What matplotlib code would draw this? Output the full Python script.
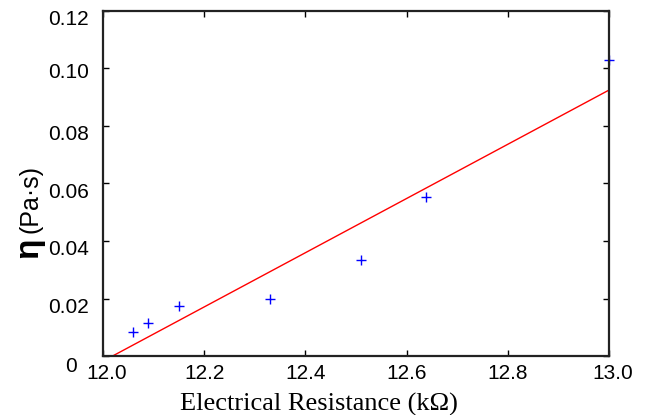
import matplotlib
matplotlib.use('Agg')
import matplotlib.pyplot as plt
import matplotlib.transforms as mtransforms

# measured points
resistance = [12.06, 12.089, 12.15, 12.33, 12.509, 12.638, 13.0]
viscosity = [0.0083, 0.0115, 0.0174, 0.0197, 0.0335, 0.0553, 0.103]

# linear fit, end points
fit_x = [12.019, 13.0]
fit_y = [0.0, 0.0925]

x_ticks = [12.0, 12.2, 12.4, 12.6, 12.8, 13.0]
y_ticks = [0, 0.02, 0.04, 0.06, 0.08, 0.10, 0.12]
y_tick_labels = ['0', '0.02', '0.04', '0.06', '0.08', '0.10', '0.12']


def nudge(label, dx, dy):
    # shift a tick label by (dx, dy) pixels
    label.set_transform(label.get_transform() +
                        mtransforms.ScaledTranslation(dx / 100, dy / 100, fig.dpi_scale_trans))


fig = plt.figure(figsize=(6.49, 4.15), dpi=100)
ax = fig.add_axes([103 / 649, 1 - 356 / 415, 506 / 649, 345 / 415])

ax.plot(fit_x, fit_y, color='red', lw=1.0)
ax.plot(resistance, viscosity, '+', color='blue', ms=7, mew=1.0, clip_on=False)

ax.set_xlim(12.0, 13.0)
ax.set_ylim(0, 0.12)
ax.set_xticks(x_ticks)
ax.set_xticklabels(['%.1f' % v for v in x_ticks])
ax.set_yticks(y_ticks)
ax.set_yticklabels(y_tick_labels)

for s in ax.spines.values():
    s.set_linewidth(1.6)
    s.set_color('#222222')

ax.tick_params(direction='in', top=True, right=True, length=4, width=1,
               labelsize=15, pad=6)
ax.tick_params(axis='y', pad=10)
for lab in ax.get_xticklabels() + ax.get_yticklabels():
    lab.set_family('Liberation Sans')

# label offsets as they sit in the original
ylabs = ax.get_yticklabels()
nudge(ylabs[0], -12, -8)
for i in range(1, len(ylabs)):
    nudge(ylabs[i], 0, -1.5 if i == 5 else -6.5)
xlabs = ax.get_xticklabels()
nudge(xlabs[0], 4, 0)
nudge(xlabs[-1], 4, 0)

fig.text(319 / 649, 1 - 411 / 415, 'Electrical Resistance (k\u03a9)',
         family='Liberation Serif', fontsize=19, ha='center', va='baseline')

# y label: big bold eta, then the unit
fig.text(29 / 649, 1 - 248 / 415, '\u03b7', family='Liberation Sans',
         fontweight='bold', fontsize=24, rotation=90, ha='center', va='center')
fig.text(31 / 649, 1 - 199 / 415, '(Pa\u00b7s)', family='Liberation Sans',
         fontsize=18, rotation=90, ha='center', va='center')

fig.savefig('out.png', dpi=100)
